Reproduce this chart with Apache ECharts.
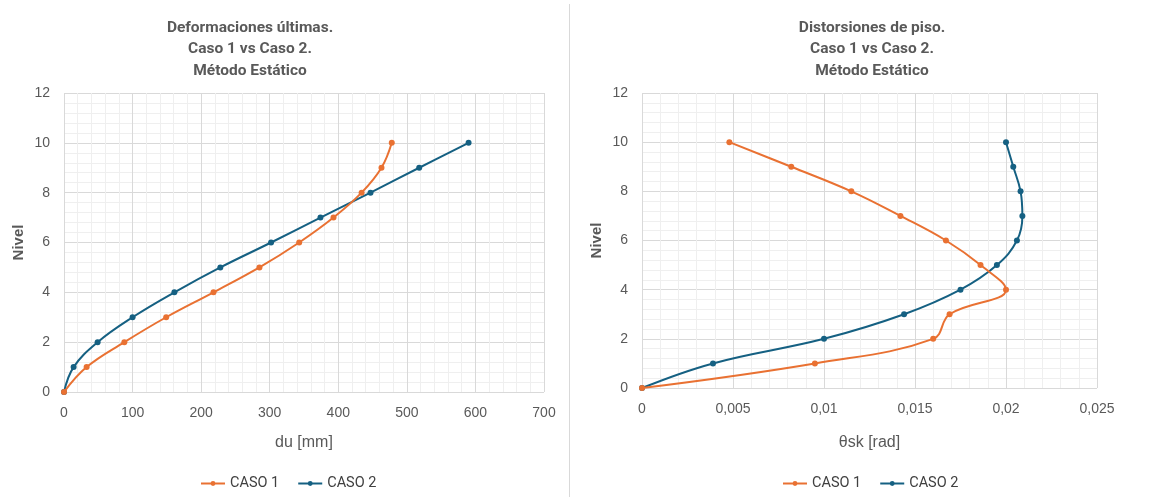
<!DOCTYPE html>
<html>
<head>
<meta charset="utf-8">
<script src="https://cdn.jsdelivr.net/npm/echarts@6/dist/echarts.min.js"></script>
<style>
html,body{margin:0;padding:0;background:#fff;}
#c{width:1152px;height:500px;}
</style>
</head>
<body>
<div id="c"></div>
<script>
// ---- data ----
const levels = [0, 1, 2, 3, 4, 5, 6, 7, 8, 9, 10];
const duCaso1 = [0, 33, 88, 149, 218, 285, 343, 393, 434, 463, 478];
const duCaso2 = [0, 14, 49, 100, 161, 228, 302, 374, 447, 518, 590];
const thetaCaso1 = [0, 0.0095, 0.0160, 0.0169, 0.0200, 0.0186, 0.0167, 0.0142, 0.0115, 0.0082, 0.0048];
const thetaCaso2 = [0, 0.0039, 0.0100, 0.0144, 0.0175, 0.0195, 0.0206, 0.0209, 0.0208, 0.0204, 0.0200];
const seriesNames = ['CASO 1', 'CASO 2'];
const titleLeft = 'Deformaciones últimas.\nCaso 1 vs Caso 2.\nMétodo Estático';
const titleRight = 'Distorsiones de piso.\nCaso 1 vs Caso 2.\nMétodo Estático';

const colOrange = '#E97132';
const colBlue = '#156082';
const txt = '#595959';
const fontTick = '"Liberation Sans", Arial, sans-serif';
const fontTitle = 'Roboto, "Liberation Sans", sans-serif';

function pairs(xs) { return xs.map((x, i) => [x, levels[i]]); }
function fmtComma(v) { return String(Number(v.toPrecision(6))).replace('.', ','); }

function xAxisCfg(gridIndex, max, interval, name, gap, formatter) {
  return {
    type: 'value', gridIndex, min: 0, max, interval,
    name, nameLocation: 'middle', nameGap: gap,
    nameTextStyle: { color: txt, fontSize: 16, fontFamily: fontTick },
    axisLine: { show: false }, axisTick: { show: false },
    axisLabel: { color: txt, fontSize: 14, fontFamily: fontTick, margin: 14, formatter },
    splitLine: { show: true, lineStyle: { color: '#d9d9d9', width: 1 } },
    minorTick: { show: false, splitNumber: 5 },
    minorSplitLine: { show: true, lineStyle: { color: '#efefef', width: 1 } }
  };
}
function yAxisCfg(gridIndex) {
  return {
    type: 'value', gridIndex, min: 0, max: 12, interval: 2,
    name: 'Nivel', nameLocation: 'middle', nameGap: 38,
    nameTextStyle: { color: txt, fontSize: 15, fontFamily: fontTick, fontWeight: 'bold' },
    axisLine: { show: false }, axisTick: { show: false },
    axisLabel: { color: txt, fontSize: 14, fontFamily: fontTick, margin: 14 },
    splitLine: { show: true, lineStyle: { color: '#d9d9d9', width: 1 } },
    minorTick: { show: false, splitNumber: 5 },
    minorSplitLine: { show: true, lineStyle: { color: '#efefef', width: 1 } }
  };
}
function lineSeries(name, color, data, idx) {
  return {
    name, type: 'line', xAxisIndex: idx, yAxisIndex: idx, data,
    smooth: 0.4, symbol: 'circle', symbolSize: 6,
    lineStyle: { color, width: 2 }, itemStyle: { color },
    z: name === 'CASO 1' ? 3 : 2
  };
}

const chart = echarts.init(document.getElementById('c'), null, { renderer: 'canvas' });
chart.setOption({
  animation: false,
  backgroundColor: '#fff',
  title: [
    { text: titleLeft, left: 245, top: 12, textAlign: 'center',
      textStyle: { color: txt, fontSize: 15.5, fontWeight: 'bold', fontFamily: fontTitle, lineHeight: 21.5 } },
    { text: titleRight, left: 867, top: 12, textAlign: 'center',
      textStyle: { color: txt, fontSize: 15.5, fontWeight: 'bold', fontFamily: fontTitle, lineHeight: 21.5 } }
  ],
  legend: [
    { data: seriesNames, left: 195, top: 471, itemWidth: 24, itemHeight: 6, itemGap: 18,
      textStyle: { color: '#404040', fontSize: 14.5, fontFamily: fontTitle } },
    { data: seriesNames, left: 777, top: 471, itemWidth: 24, itemHeight: 6, itemGap: 18,
      textStyle: { color: '#404040', fontSize: 14.5, fontFamily: fontTitle } }
  ],
  grid: [
    { left: 64, top: 93, width: 480, height: 299 },
    { left: 642, top: 93, width: 455, height: 295 }
  ],
  xAxis: [
    xAxisCfg(0, 700, 100, 'du [mm]', 43, v => String(v)),
    xAxisCfg(1, 0.025, 0.005, 'θsk [rad]', 47, fmtComma)
  ],
  yAxis: [yAxisCfg(0), yAxisCfg(1)],
  series: [
    lineSeries('CASO 1', colOrange, pairs(duCaso1), 0),
    lineSeries('CASO 2', colBlue, pairs(duCaso2), 0),
    lineSeries('CASO 1', colOrange, pairs(thetaCaso1), 1),
    lineSeries('CASO 2', colBlue, pairs(thetaCaso2), 1)
  ],
  graphic: [
    { type: 'line', shape: { x1: 569.5, y1: 4, x2: 569.5, y2: 497 },
      style: { stroke: '#d9d9d9', lineWidth: 1 }, silent: true }
  ]
});
</script>
</body>
</html>
